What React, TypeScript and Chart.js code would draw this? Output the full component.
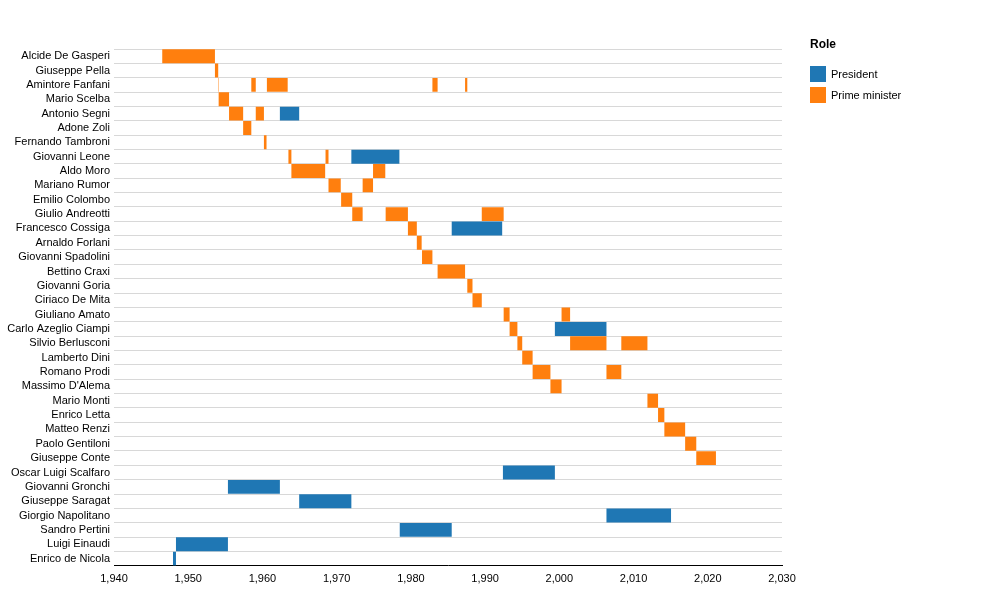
import React, { useEffect, useRef } from "react";
import { Chart, registerables } from "chart.js";
Chart.register(...registerables);

const names = ["Alcide De Gasperi","Giuseppe Pella","Amintore Fanfani","Mario Scelba","Antonio Segni","Adone Zoli","Fernando Tambroni","Giovanni Leone","Aldo Moro","Mariano Rumor","Emilio Colombo","Giulio Andreotti","Francesco Cossiga","Arnaldo Forlani","Giovanni Spadolini","Bettino Craxi","Giovanni Goria","Ciriaco De Mita","Giuliano Amato","Carlo Azeglio Ciampi","Silvio Berlusconi","Lamberto Dini","Romano Prodi","Massimo D'Alema","Mario Monti","Enrico Letta","Matteo Renzi","Paolo Gentiloni","Giuseppe Conte","Oscar Luigi Scalfaro","Giovanni Gronchi","Giuseppe Saragat","Giorgio Napolitano","Sandro Pertini","Luigi Einaudi","Enrico de Nicola"];

// [name, start, end]
const primeMinisterTerms: [string, number, number][] = [
  ["Alcide De Gasperi",1946.5,1953.6],["Giuseppe Pella",1953.6,1954.04],
  ["Amintore Fanfani",1954.04,1954.1],["Amintore Fanfani",1958.5,1959.1],["Amintore Fanfani",1960.6,1963.4],["Amintore Fanfani",1982.9,1983.6],["Amintore Fanfani",1987.3,1987.6],
  ["Mario Scelba",1954.1,1955.5],["Antonio Segni",1955.5,1957.4],["Antonio Segni",1959.1,1960.2],
  ["Adone Zoli",1957.4,1958.5],["Fernando Tambroni",1960.2,1960.55],
  ["Giovanni Leone",1963.5,1963.9],["Giovanni Leone",1968.5,1968.9],
  ["Aldo Moro",1963.9,1968.45],["Aldo Moro",1974.9,1976.55],
  ["Mariano Rumor",1968.9,1970.55],["Mariano Rumor",1973.5,1974.9],
  ["Emilio Colombo",1970.6,1972.1],
  ["Giulio Andreotti",1972.1,1973.5],["Giulio Andreotti",1976.6,1979.6],["Giulio Andreotti",1989.55,1992.5],
  ["Francesco Cossiga",1979.6,1980.8],["Arnaldo Forlani",1980.8,1981.45],["Giovanni Spadolini",1981.5,1982.9],
  ["Bettino Craxi",1983.6,1987.3],["Giovanni Goria",1987.6,1988.3],["Ciriaco De Mita",1988.3,1989.55],
  ["Giuliano Amato",1992.5,1993.3],["Giuliano Amato",2000.3,2001.45],
  ["Carlo Azeglio Ciampi",1993.3,1994.35],
  ["Silvio Berlusconi",1994.35,1995.0],["Silvio Berlusconi",2001.45,2006.35],["Silvio Berlusconi",2008.35,2011.87],
  ["Lamberto Dini",1995.0,1996.4],["Romano Prodi",1996.4,1998.8],["Romano Prodi",2006.35,2008.35],
  ["Massimo D'Alema",1998.8,2000.3],["Mario Monti",2011.87,2013.3],["Enrico Letta",2013.3,2014.15],
  ["Matteo Renzi",2014.15,2016.95],["Paolo Gentiloni",2016.95,2018.45],["Giuseppe Conte",2018.45,2021.1],
];
const presidentTerms: [string, number, number][] = [
  ["Antonio Segni",1962.35,1964.95],["Giovanni Leone",1971.98,1978.45],["Francesco Cossiga",1985.5,1992.3],
  ["Carlo Azeglio Ciampi",1999.4,2006.35],["Oscar Luigi Scalfaro",1992.4,1999.4],["Giovanni Gronchi",1955.35,1962.35],
  ["Giuseppe Saragat",1964.95,1971.98],["Giorgio Napolitano",2006.35,2015.05],["Sandro Pertini",1978.5,1985.5],
  ["Luigi Einaudi",1948.35,1955.35],["Enrico de Nicola",1947.95,1948.35],
];
const roles = ["President", "Prime minister"];
const colors = ["#1f77b4", "#ff7f0e"];

export default function App() {
  const ref = useRef<HTMLCanvasElement>(null);
  useEffect(() => {
    const toData = (t: [string, number, number][]) => t.map(([n, s, e]) => ({ y: n, x: [s, e] }));
    const font = { family: "Arial, 'Liberation Sans'", size: 11 };
    const chart = new Chart(ref.current!, {
      type: "bar",
      data: {
        labels: names,
        datasets: [
          { label: roles[0], data: toData(presidentTerms) as any, backgroundColor: colors[0], grouped: false, barPercentage: 1, categoryPercentage: 0.97 } as any,
          { label: roles[1], data: toData(primeMinisterTerms) as any, backgroundColor: colors[1], grouped: false, barPercentage: 1, categoryPercentage: 0.97 } as any,
        ],
      },
      options: {
        indexAxis: "y",
        animation: false,
        responsive: false,
        layout: { padding: { top: 49, right: 223, bottom: 12, left: 0 } },
        plugins: { legend: { display: false }, tooltip: { enabled: false } },
        scales: {
          x: {
            type: "linear", min: 1940, max: 2030,
            ticks: { stepSize: 10, color: "#000", font, padding: 2 },
            grid: { display: false, drawTicks: true, tickLength: 5, tickColor: "#000" } as any,
            border: { color: "#000" },
          },
          y: {
            type: "category",
            ticks: { color: "#000", font, padding: 4, autoSkip: false },
            grid: { color: "#d8d8d8", offset: true, drawTicks: false },
            border: { display: false },
            afterFit: (s: any) => { s.width = 114; },
          },
        },
      },
    });
    return () => chart.destroy();
  }, []);
  return (
    <div style={{ position: "fixed", left: 0, top: 0, width: 1005, height: 600, fontFamily: "Arial, 'Liberation Sans'" }}>
      <canvas ref={ref} width={1005} height={600} />
      <div style={{ position: "absolute", left: 810, top: 37, fontSize: 12, fontWeight: "bold" }}>Role</div>
      {roles.map((r, i) => (
        <div key={r} style={{ position: "absolute", left: 810, top: 66 + i * 21, display: "flex", alignItems: "center", fontSize: 11 }}>
          <span style={{ display: "inline-block", width: 16, height: 16, background: colors[i], marginRight: 5 }} />
          {r}
        </div>
      ))}
    </div>
  );
}
